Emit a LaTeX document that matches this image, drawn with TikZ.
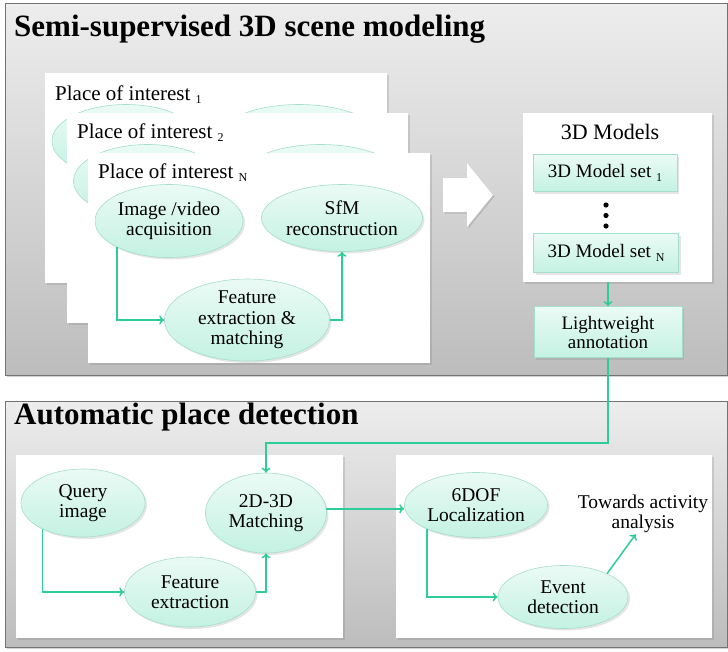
\documentclass[tikz,border=0pt]{standalone}
\usepackage{fontspec}
\setmainfont{Liberation Serif}
\usetikzlibrary{positioning}
\usetikzlibrary{shapes.geometric}
\usetikzlibrary{shadows}
\usetikzlibrary{arrows.meta}

\definecolor{mint}{RGB}{196,242,226}
\definecolor{mintedge}{RGB}{165,222,202}
\definecolor{linkgreen}{RGB}{45,205,155}
\newcommand{\lowidx}[1]{\raisebox{-3.5pt}{\fontsize{12}{12}\selectfont #1}}

\begin{document}
\begin{tikzpicture}[x=1pt,y=-1pt,>={To[length=5pt,width=9pt]},
	panel/.style={draw=black!55,line width=.8pt,top color=black!7,bottom color=black!26,drop shadow={opacity=.35,shadow xshift=1.5pt,shadow yshift=-1.5pt}},
	page/.style={fill=white,inner sep=0pt,outer sep=0pt,drop shadow={opacity=.25,shadow xshift=2pt,shadow yshift=-2pt}},
	blob/.style={ellipse,draw=mintedge,line width=.6pt,top color=mint!35!white,bottom color=mint,align=center,inner sep=0pt,font=\fontsize{19.5}{20.5}\selectfont,drop shadow={opacity=.2,shadow xshift=2pt,shadow yshift=-2pt}},
	setbox/.style={rectangle,draw=mintedge,line width=.6pt,top color=mint!35!white,bottom color=mint,align=center,inner sep=0pt,font=\fontsize{19}{19}\selectfont,drop shadow={opacity=.2,shadow xshift=2pt,shadow yshift=-2pt}},
	head_txt/.style={font=\fontsize{31}{33}\selectfont\bfseries,inner sep=0pt,anchor=base west},
	poi_txt/.style={font=\fontsize{21}{23}\selectfont,inner sep=0pt,anchor=base west},
	link/.style={draw=linkgreen,line width=1.5pt}]
	\useasboundingbox (0,0) rectangle (728,651);

	% upper panel
	\draw[panel] (5,3) rectangle (727,375);
	\node[head_txt] (scene_txt) at (14,36) {Semi-supervised 3D scene modeling};

	\node[page,minimum width=342pt,minimum height=210pt] (poi1) at (216,178) {};
	\node[blob,minimum width=148pt,minimum height=73pt] (poi1_img) at (126,141) {};
	\node[blob,minimum width=161pt,minimum height=67pt] (poi1_sfm) at (299,138) {};
	\node[poi_txt] (poi1_txt) at (55,100) {Place of interest \lowidx{1}};

	\node[page,minimum width=341pt,minimum height=210pt] (poi2) at (237.5,218) {};
	\node[blob,minimum width=148pt,minimum height=73pt] (poi2_img) at (147.5,181) {};
	\node[blob,minimum width=161pt,minimum height=67pt] (poi2_sfm) at (320.5,178) {};
	\node[poi_txt] (poi2_txt) at (77,138) {Place of interest \lowidx{2}};

	\node[page,minimum width=342pt,minimum height=210pt] (poiN) at (259,258) {};
	\node[poi_txt] (poiN_txt) at (98,178) {Place of interest \lowidx{N}};
	\node[blob,minimum width=148pt,minimum height=73pt] (poiN_img) at (169,221) {Image /video\\acquisition};
	\node[blob,minimum width=161pt,minimum height=67pt] (poiN_sfm) at (342,218) {SfM\\reconstruction};
	\node[blob,minimum width=165pt,minimum height=76pt] (poiN_feat) at (247,320) {Feature\\extraction \&\\matching};

	\draw[link,->] (poiN_img.207) |- (poiN_feat.west);
	\draw[link,->] (poiN_feat.east) -| (poiN_sfm.south);

	% block arrow
	\fill[white,drop shadow={opacity=.3,shadow xshift=1.5pt,shadow yshift=-1.5pt}] (443,178) -- (467,178) -- (467,163) -- (493,195) -- (467,227) -- (467,212) -- (443,212) -- cycle;

	\node[page,minimum width=189pt,minimum height=169pt] (models) at (617.5,197.5) {};
	\node[font=\fontsize{22}{24}\selectfont,inner sep=0pt] (models_txt) at (610,132) {3D Models};
	\node[setbox,minimum width=144pt,minimum height=37pt] (set1) at (605,173) {3D Model set \lowidx{1}};
	\node[setbox,minimum width=145pt,minimum height=39pt] (setN) at (606,253) {3D Model set \lowidx{N}};
	\fill (606,205) circle[radius=2.6pt] (606,215.5) circle[radius=2.6pt] (606,226) circle[radius=2.6pt];
	\node[setbox,minimum width=148pt,minimum height=51pt] (light) at (608,332) {Lightweight\\annotation};

	\draw[link,->] (light.north |- models.south) -- (light.north);

	% lower panel
	\draw[panel] (5,401) rectangle (727,647);
	\node[head_txt] (place_txt) at (14,424) {Automatic place detection};

	\node[page,minimum width=327pt,minimum height=183pt] (left_pane) at (179.5,546.5) {};
	\node[page,minimum width=316pt,minimum height=183pt] (right_pane) at (554,546.5) {};

	\node[blob,minimum width=124pt,minimum height=68pt] (query) at (83,503) {Query\\image};
	\node[blob,minimum width=121pt,minimum height=80pt] (match) at (266,513) {2D-3D\\Matching};
	\node[blob,minimum width=131pt,minimum height=70pt] (feat) at (190,592) {Feature\\extraction};
	\node[blob,minimum width=143pt,minimum height=65pt] (loc) at (476,505) {6DOF\\Localization};
	\node[blob,minimum width=130pt,minimum height=63pt] (event) at (563,597) {Event\\detection};
	\node[font=\fontsize{19.5}{20.5}\selectfont,align=center,inner sep=1pt] (towards) at (643,514) {Towards activity\\analysis};

	\coordinate (turn) at (0,443);
	\draw[link,->] (light.south) -- (light.south |- turn) -| (match.north);
	\draw[link,->] (query.213) |- (feat.west);
	\draw[link,->] (feat.east) -| (match.south);
	\draw[link,->] (match.4) -- (match.4 -| loc.west);
	\draw[link,->] (loc.206) |- (event.west);
	\draw[link,->] (event.28) -- (towards.250);
\end{tikzpicture}
\end{document}
